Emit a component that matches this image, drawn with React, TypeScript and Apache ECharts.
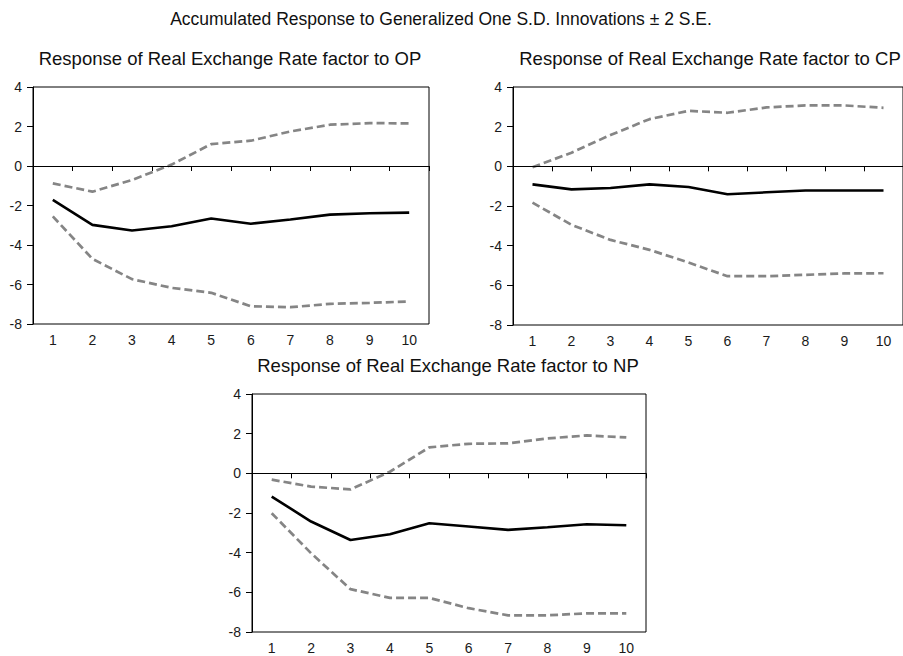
import React, { useEffect, useRef } from "react";
import * as echarts from "echarts";

const periods = ["1", "2", "3", "4", "5", "6", "7", "8", "9", "10"];
const yTicks = { min: -8, max: 4, interval: 2 };

const mainTitle = "Accumulated Response to Generalized One S.D. Innovations \u00b1 2 S.E.";
const panelTitles = [
  "Response of Real Exchange Rate factor to OP",
  "Response of Real Exchange Rate factor to CP",
  "Response of Real Exchange Rate factor to NP",
];

const opResponse = [-1.72, -2.98, -3.27, -3.05, -2.66, -2.92, -2.71, -2.46, -2.39, -2.36];
const opUpper = [-0.88, -1.3, -0.71, 0.07, 1.11, 1.28, 1.75, 2.09, 2.17, 2.16];
const opLower = [-2.55, -4.7, -5.73, -6.17, -6.42, -7.1, -7.15, -6.98, -6.93, -6.86];

const cpResponse = [-0.91, -1.16, -1.09, -0.91, -1.04, -1.41, -1.31, -1.22, -1.22, -1.22];
const cpUpper = [-0.05, 0.69, 1.58, 2.38, 2.8, 2.7, 2.97, 3.07, 3.07, 2.95];
const cpLower = [-1.83, -2.95, -3.71, -4.21, -4.85, -5.54, -5.54, -5.47, -5.4, -5.39];

const npResponse = [-1.17, -2.43, -3.36, -3.07, -2.52, -2.68, -2.85, -2.72, -2.57, -2.62];
const npUpper = [-0.32, -0.67, -0.81, 0.08, 1.31, 1.49, 1.51, 1.76, 1.91, 1.81];
const npLower = [-2.01, -4.03, -5.84, -6.28, -6.28, -6.8, -7.16, -7.16, -7.06, -7.06];

const panels = [
  { resp: opResponse, up: opUpper, lo: opLower },
  { resp: cpResponse, up: cpUpper, lo: cpLower },
  { resp: npResponse, up: npUpper, lo: npLower },
];

const FONT = "'Liberation Sans', Arial, sans-serif";

export default function App() {
  const ref = useRef<HTMLDivElement>(null);
  useEffect(() => {
    if (!ref.current) return;
    const chart = echarts.init(ref.current, null, { renderer: "svg" });
    const grids = [
      { left: 33, top: 87, width: 396, height: 237 },
      { left: 513, top: 87, width: 395, height: 238 },
      { left: 252, top: 394, width: 394, height: 238 },
    ];
    const titlePos = [
      { x: 230, y: 58 },
      { x: 710, y: 58 },
      { x: 448, y: 365 },
    ];
    const xAxis: any[] = [];
    const yAxis: any[] = [];
    const series: any[] = [];
    panels.forEach((p, i) => {
      xAxis.push({
        type: "category",
        gridIndex: i,
        data: periods,
        boundaryGap: true,
        axisLine: { lineStyle: { color: "#000", width: 1 } },
        axisTick: { show: true, inside: false, length: 5, lineStyle: { color: "#000" } },
        axisLabel: { color: "#1a1a1a", fontSize: 14, fontFamily: FONT, margin: 9 },
        splitLine: { show: false },
      });
      yAxis.push({
        type: "value",
        gridIndex: i,
        min: yTicks.min,
        max: yTicks.max,
        interval: yTicks.interval,
        axisLine: { show: true, lineStyle: { color: "#000", width: 1 } },
        axisTick: { show: true, inside: false, length: 6, lineStyle: { color: "#000" } },
        axisLabel: { color: "#1a1a1a", fontSize: 14, fontFamily: FONT, margin: 11 },
        splitLine: { show: false },
      });
      series.push({
        type: "line",
        xAxisIndex: i,
        yAxisIndex: i,
        data: p.up,
        symbol: "none",
        lineStyle: { color: "#858585", width: 2.7, type: [8, 4] },
        z: 2,
      });
      series.push({
        type: "line",
        xAxisIndex: i,
        yAxisIndex: i,
        data: p.lo,
        symbol: "none",
        lineStyle: { color: "#858585", width: 2.7, type: [8, 4] },
        z: 2,
      });
      series.push({
        type: "line",
        xAxisIndex: i,
        yAxisIndex: i,
        data: p.resp,
        symbol: "none",
        lineStyle: { color: "#000", width: 2.6 },
        z: 3,
        markLine: {
          silent: true,
          symbol: "none",
          label: { show: false },
          lineStyle: { color: "#000", width: 1, type: "solid" },
          data: [{ yAxis: 0 }],
        },
      });
    });
    const graphic: any[] = [
      {
        type: "text",
        x: 441,
        y: 19,
        style: {
          text: mainTitle,
          font: `17.5px ${FONT}`,
          fill: "#111",
          textAlign: "center",
          textVerticalAlign: "middle",
        },
      },
      ...panelTitles.map((t, i) => ({
        type: "text",
        x: titlePos[i].x,
        y: titlePos[i].y,
        style: {
          text: t,
          font: `18.5px ${FONT}`,
          fill: "#111",
          textAlign: "center",
          textVerticalAlign: "middle",
        },
      })),
    ];
    chart.setOption({
      animation: false,
      backgroundColor: "#fff",
      grid: grids.map((g) => ({ ...g, show: true, borderColor: "#000", borderWidth: 1, backgroundColor: "transparent" })),
      xAxis,
      yAxis,
      series,
      graphic,
    });
    return () => chart.dispose();
  }, []);
  return (
    <div
      ref={ref}
      style={{ position: "fixed", left: 0, top: 0, width: 903, height: 656, background: "#fff" }}
    />
  );
}
